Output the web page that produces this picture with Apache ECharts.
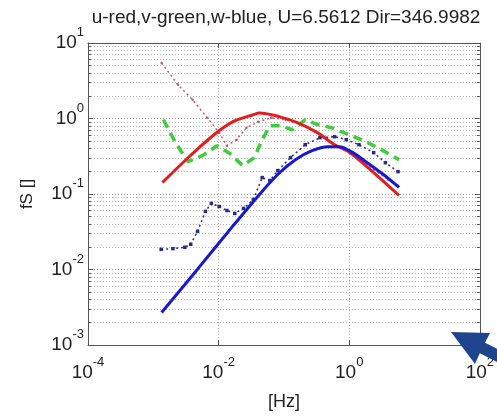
<!DOCTYPE html>
<html>
<head>
<meta charset="utf-8">
<script src="https://cdn.jsdelivr.net/npm/echarts@6/dist/echarts.min.js"></script>
<style>
  html, body { margin: 0; padding: 0; background: #fff; }
  #chart { width: 497px; height: 416px; }
</style>
</head>
<body>
<div id="chart"></div>
<script>
// Normalised spectra fS against frequency [Hz]

// u component, model curve
const uModelHz = [1.38e-3, 3.37e-3, 8.5e-3, 0.0169, 0.0337, 0.0423, 0.0843, 0.168, 0.335, 0.596, 1.0, 2.37, 5.8];
const uModelFS = [0.142, 0.30, 0.61, 0.914, 1.12, 1.18, 1.06, 0.87, 0.64, 0.45, 0.36, 0.192, 0.0955];

// w component, model curve
const wModelHz = [1.34e-3, 4.76e-3, 0.0159, 0.0449, 0.0834, 0.15, 0.27, 0.468, 0.708, 1.07, 1.8, 3.34, 5.8];
const wModelFS = [0.0027, 0.0101, 0.0361, 0.105, 0.187, 0.285, 0.375, 0.424, 0.424, 0.364, 0.268, 0.181, 0.122];

// u component, measured
const uMeasHz = [1.34e-3, 2.39e-3, 4.0e-3, 6.7e-3, 0.0102, 0.0134, 0.0189, 0.0267, 0.0405, 0.0634, 0.106, 0.18, 0.30, 0.5, 0.84, 1.41, 2.37, 3.98, 5.6];
const uMeasFS = [5.44, 2.79, 1.77, 1.02, 0.65, 0.437, 0.525, 0.755, 0.906, 1.02, 0.963, 0.83, 0.668, 0.493, 0.387, 0.285, 0.21, 0.155, 0.129];

// v component, measured
const vMeasHz = [1.43e-3, 2.15e-3, 3.37e-3, 5.66e-3, 9.5e-3, 0.0149, 0.0233, 0.0352, 0.0465, 0.0612, 0.0893, 0.135, 0.212, 0.332, 0.537, 0.9, 1.68, 3.12, 5.8];
const vMeasFS = [0.963, 0.493, 0.268, 0.322, 0.437, 0.343, 0.238, 0.303, 0.524, 0.80, 0.80, 0.71, 0.963, 0.827, 0.755, 0.63, 0.508, 0.387, 0.285];

// w component, measured
const wMeasHz = [1.32e-3, 2.0e-3, 3.04e-3, 3.74e-3, 4.76e-3, 6.28e-3, 7.73e-3, 0.0102, 0.0134, 0.0177, 0.0241, 0.034, 0.0465, 0.0612, 0.0806, 0.126, 0.212, 0.356, 0.596, 0.9, 1.41, 2.37, 3.58, 5.6];
const wMeasFS = [0.0185, 0.0189, 0.0197, 0.0216, 0.032, 0.0588, 0.075, 0.0684, 0.0605, 0.0553, 0.0644, 0.0846, 0.165, 0.151, 0.204, 0.303, 0.45, 0.557, 0.574, 0.524, 0.45, 0.353, 0.26, 0.198];

// decade exponents shown on the axes
const xTickExp = [-4, -2, 0, 2];
const yTickExp = [-3, -2, -1, 0, 1];

const titleText = 'u-red,v-green,w-blue, U=6.5612 Dir=346.9982';
const FONT = '"Liberation Sans", Arial, sans-serif';
const INK = '#222';

const pairs = (xs, ys) => xs.map((x, i) => [x, ys[i]]);

function powerLabel(exps) {
  return function (v) {
    const e = Math.round(Math.log10(v));
    return exps.indexOf(e) >= 0 ? '{b|10}{e|' + e + '}' : '';
  };
}
const labelRich = {
  b: { fontSize: 19, lineHeight: 34, fontFamily: FONT, color: INK },
  e: { fontSize: 13, lineHeight: 14, verticalAlign: 'top', fontFamily: FONT, color: INK }
};

const xMin = Math.pow(10, xTickExp[0]);
const xMax = Math.pow(10, xTickExp[xTickExp.length - 1]);
const yMin = Math.pow(10, yTickExp[0]);
const yMax = Math.pow(10, yTickExp[yTickExp.length - 1]);

const frameLine = { show: true, lineStyle: { color: '#555', width: 1 } };

const chart = echarts.init(document.getElementById('chart'), null, { renderer: 'canvas' });
chart.setOption({
  animation: false,
  backgroundColor: '#fff',
  title: {
    text: titleText,
    left: 281, top: 3, textAlign: 'center',
    textStyle: { fontFamily: FONT, fontSize: 19, fontWeight: 'normal', color: INK }
  },
  grid: { left: 88, top: 43, right: 8, bottom: 70, containLabel: false },
  xAxis: [
    {
      type: 'log', logBase: 10, min: xMin, max: xMax, interval: 2,
      name: '[Hz]', nameLocation: 'middle', nameGap: 48,
      nameTextStyle: { fontFamily: FONT, fontSize: 18, color: INK },
      axisLine: frameLine,
      axisTick: { show: true, inside: true, length: 5, lineStyle: { color: '#555' } },
      axisLabel: { formatter: powerLabel(xTickExp), rich: labelRich, margin: 11, showMaxLabel: true, showMinLabel: true },
      splitLine: { show: true, lineStyle: { color: '#aaa', type: [1, 2], width: 1 } }
    },
    {
      type: 'log', logBase: 10, min: xMin, max: xMax, interval: 2, position: 'top',
      axisLine: frameLine,
      axisTick: { show: true, inside: true, length: 5, lineStyle: { color: '#555' } },
      axisLabel: { show: false },
      splitLine: { show: false }
    }
  ],
  yAxis: [
    {
      type: 'log', logBase: 10, min: yMin, max: yMax, interval: 1,
      name: 'fS []', nameLocation: 'middle', nameGap: 52, nameRotate: 90,
      nameTextStyle: { fontFamily: FONT, fontSize: 17, color: INK },
      axisLine: frameLine,
      axisTick: { show: true, inside: true, length: 5, lineStyle: { color: '#555' } },
      minorTick: { show: true, splitNumber: 9, length: 3, lineStyle: { color: '#555' } },
      axisLabel: { formatter: powerLabel(yTickExp), rich: labelRich, margin: 4 },
      splitLine: { show: true, lineStyle: { color: '#999', type: [1, 2], width: 1 } },
      minorSplitLine: { show: true, lineStyle: { color: '#b8b8b8', type: [1, 2], width: 1 } }
    },
    {
      type: 'log', logBase: 10, min: yMin, max: yMax, interval: 1, position: 'right',
      axisLine: frameLine,
      axisTick: { show: true, inside: true, length: 5, lineStyle: { color: '#555' } },
      minorTick: { show: true, splitNumber: 9, length: 3, lineStyle: { color: '#555' } },
      axisLabel: { show: false },
      splitLine: { show: false }
    }
  ],
  series: [
    {
      name: 'u measured', type: 'line', data: pairs(uMeasHz, uMeasFS),
      symbol: 'circle', symbolSize: 2.5, showSymbol: true,
      itemStyle: { color: '#c45a6e' },
      lineStyle: { color: '#c45a6e', width: 1.5, type: [2, 3] }, z: 3
    },
    {
      name: 'w measured', type: 'line', data: pairs(wMeasHz, wMeasFS),
      symbol: 'rect', symbolSize: 3.5, showSymbol: true,
      itemStyle: { color: '#2b2b86' },
      lineStyle: { color: '#2b2b86', width: 1.5, type: [2, 3] }, z: 3
    },
    {
      name: 'v measured', type: 'line', data: pairs(vMeasHz, vMeasFS),
      showSymbol: false,
      lineStyle: { color: '#3ccf3c', width: 3.5, type: [9, 6] }, z: 4
    },
    {
      name: 'u model', type: 'line', data: pairs(uModelHz, uModelFS),
      showSymbol: false, smooth: 0.3,
      lineStyle: { color: '#e41e1e', width: 3 }, z: 5
    },
    {
      name: 'w model', type: 'line', data: pairs(wModelHz, wModelFS),
      showSymbol: false, smooth: 0.3,
      lineStyle: { color: '#1818d0', width: 3 }, z: 6
    }
  ],
  graphic: [
    {
      type: 'polygon', silent: true, z: 100,
      shape: { points: [[451, 332], [490, 333], [485, 342.7], [510, 355.3], [510, 368.7], [479.8, 353.3], [475, 364]] },
      style: { fill: '#1f458f' }
    }
  ]
});
</script>
</body>
</html>
